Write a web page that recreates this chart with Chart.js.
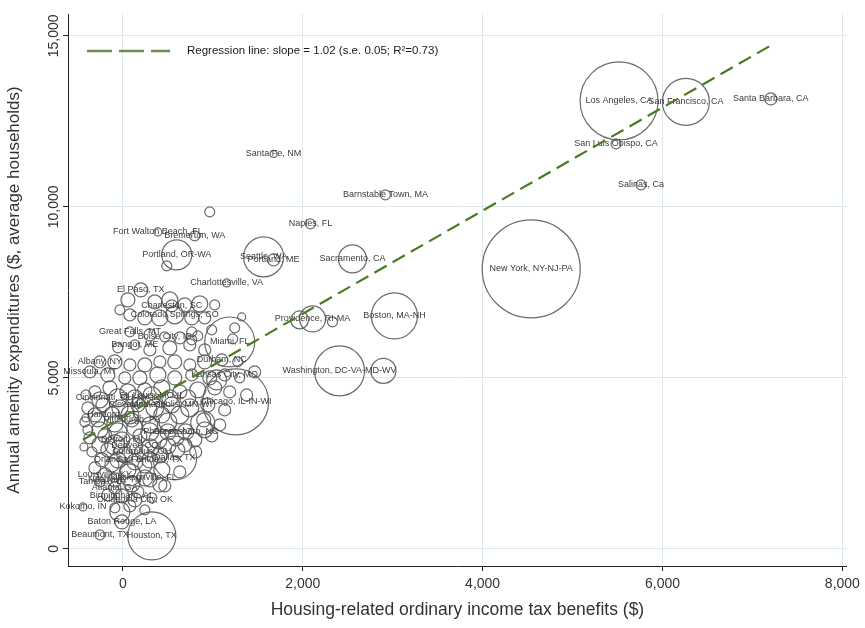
<!DOCTYPE html>
<html><head><meta charset="utf-8">
<script src="https://cdn.jsdelivr.net/npm/chart.js@4"></script>
<style>html,body{margin:0;padding:0;background:#fff}#wrap{width:865px;height:628px}</style>
</head><body><div id="wrap"><canvas id="c" width="865" height="628"></canvas></div>
<script>
const metro = [
 'Los Angeles, CA','San Francisco, CA','Santa Barbara, CA','San Luis Obispo, CA','Salinas, Ca','New York, NY-NJ-PA','Santa Fe, NM','Barnstable Town, MA','Naples, FL','',
 'Sacramento, CA','Seattle, WA','Portland, ME','Portland, OR-WA','','Fort Walton Beach, FL','Bremerton, WA','Charlottesville, VA','El Paso, TX','Boston, MA-NH',
 'Providence, RI-MA','','','Washington, DC-VA-MD-WV','','Chicago, IL-IN-WI','','Miami, FL','Houston, TX','Dallas, TX',
 'Baton Rouge, LA','Beaumont, TX','Kokomo, IN','','','','','','Colorado Springs, CO','',
 '','','','','','','Charleston, SC','Great Falls, MT','','Boise City, ID',
 '','','','','','','Bangor, ME','','','',
 '','','','','Albany, NY','','','','','',
 '','','Durham, NC','','Missoula, MT','','','','','',
 '','','Kansas City, MO','','','','','','','',
 '','','','','','','','','','Cleveland, OH',
 '','Minneapolis, MN-WI','','','','','','','','Pittsburgh, PA',
 '','','Greensboro, NC','','','','','','Detroit, MI','',
 '','','','','','','','','Columbus, OH','',
 '','','','','','','','','','Tampa, FL',
 'Nashville, TN','','','','Atlanta, GA','','Birmingham, AL','','','',
 '','','','','','',
 '','Cincinnati, OH-KY-IN','','St. Louis, MO-IL','','','','Hartford, CT','','',
 '','','','','','Phoenix, AZ','','','Denver, CO','',
 '','','','Orlando, FL','','San Antonio, TX','Louisville, KY','Jacksonville, FL','','Oklahoma City, OK'
];
const benefit = [
 5517,6260,7204,5483,5761,4540,1676,2919,2087,966,
 2553,1565,1676,599,488,389,799,1154,200,3019,
 2109,1965,2331,2409,2897,1254,1376,1188,322,577,
 -11,-255,-444,56,355,522,688,855,577,411,
 244,78,766,910,-33,1021,544,78,300,466,
 633,833,988,744,522,300,133,-56,910,766,
 766,1321,1243,1221,-255,-89,78,244,411,577,
 744,910,1099,1277,-366,-167,22,189,389,577,
 766,966,1132,1299,1465,1043,-411,-311,-144,56,
 244,433,633,833,1021,1188,-389,-222,-33,167,
 355,544,744,944,1132,244,-422,-278,-89,100,
 300,500,699,899,1077,888,-366,-200,-11,189,
 389,588,799,988,-89,-344,-167,22,211,411,
 611,810,-311,-122,56,244,433,633,78,-255,
 -89,100,300,466,-89,-167,-11,167,322,-89,
 78,244,-33,-411,-433,-389,
 -255,-56,133,322,522,722,-311,-122,78,433,
 633,-255,-56,133,300,500,910,-255,133,300,
 500,688,-233,-56,133,300,-200,244,411,133
];
const amenity = [
 13099,13070,13158,11842,10643,8187,11550,10351,9503,9854,
 8480,8538,8450,8597,8275,9269,9152,7778,7573,6813,
 6725,6696,6638,5205,5205,4298,4503,6050,380,2661,
 789,409,1228,7281,7222,7281,7135,7164,6842,6754,
 6754,6842,6754,6754,6988,7135,7105,6345,6257,6199,
 6170,6228,6404,5965,5877,5819,5965,5877,5819,6345,
 6111,6784,6462,6140,5468,5468,5380,5380,5468,5468,
 5380,5468,5526,5468,5175,5088,5000,5000,5088,5000,
 5088,5000,5088,5000,5175,4942,4503,4591,4708,4591,
 4649,4708,4591,4649,4708,4591,4123,4211,4123,4211,
 4123,4211,4123,4211,4064,4064,3714,3772,3655,3772,
 3626,3714,3421,3772,3626,3684,3246,3304,3187,3304,
 3187,3246,3187,3304,3041,2836,2895,2749,2836,2749,
 2895,2836,2368,2456,2310,2427,2310,2251,2164,1959,
 2018,1901,2018,1842,1784,1579,1550,1667,1491,1199,
 1257,1140,1082,3830,2983,3480,
 4357,4415,4415,4474,4415,4415,3918,3918,3918,3918,
 3918,3480,3421,3538,3421,3421,3480,3041,3012,2953,
 3012,3041,2602,2602,2544,2602,2164,2076,1871,1433
];
const households = [
 9500,3450,225,155,155,15000,75,155,155,155,
 1225,2500,225,1400,155,100,155,100,305,3300,
 1050,500,155,3900,980,6800,225,3900,3600,3000,
 305,155,100,305,305,400,305,400,505,400,
 305,225,305,225,155,155,225,155,225,155,
 225,155,155,225,305,225,155,155,225,155,
 155,100,155,155,225,305,225,305,225,305,
 225,305,225,155,225,305,225,305,400,305,
 225,305,225,155,225,625,155,225,305,400,
 305,400,305,400,305,225,225,305,400,305,
 505,400,505,305,225,900,155,305,400,305,
 400,505,400,305,225,900,225,305,400,305,
 505,400,305,225,625,155,305,400,305,400,
 305,225,225,305,400,305,400,225,756,155,
 305,400,305,225,225,225,305,225,155,155,
 225,155,625,100,100,155,
 400,505,400,505,400,400,305,400,505,400,
 505,400,505,400,505,400,400,400,400,505,
 400,305,305,400,400,400,305,400,305,305
];
const fitBenefit = [-444, 7204];
const fitAmenity = [3190, 14720];
const xTicks = [0, 2000, 4000, 6000, 8000];
const yTicks = [0, 5000, 10000, 15000];
const legendText = 'Regression line: slope = 1.02 (s.e. 0.05; R\u00B2=0.73)';
const xTitle = 'Housing-related ordinary income tax benefits ($)';
const yTitle = 'Annual amenity expenditures ($, average households)';

const FONT = "'Liberation Sans', Arial, sans-serif";
const fmt = v => Number(v).toLocaleString('en-US');
const bubbles = benefit.map((x, i) => ({x: x, y: amenity[i], r: 0.4 * Math.sqrt(households[i])}));
const fitLine = fitBenefit.map((x, i) => ({x: x, y: fitAmenity[i]}));

const decor = {
  id: 'decor',
  afterDatasetDraw(chart, args) {
    if (args.meta.type !== 'bubble') return;
    const ctx = chart.ctx, xs = chart.scales.x, ys = chart.scales.y;
    ctx.save();
    ctx.font = '9px ' + FONT;
    ctx.fillStyle = '#3c3c3c';
    ctx.textAlign = 'center';
    ctx.textBaseline = 'middle';
    metro.forEach((name, i) => {
      if (!name) return;
      ctx.fillText(name, xs.getPixelForValue(benefit[i]), ys.getPixelForValue(amenity[i]));
    });
    ctx.restore();
  },
  afterDraw(chart) {
    const ctx = chart.ctx, ys = chart.scales.y, a = chart.chartArea;
    ctx.save();
    ctx.font = '14px ' + FONT;
    ctx.fillStyle = '#333';
    ctx.textAlign = 'center';
    ctx.textBaseline = 'middle';
    ys.ticks.forEach(t => {
      const py = ys.getPixelForValue(t.value);
      ctx.save();
      ctx.translate(a.left - 14, py);
      ctx.rotate(-Math.PI / 2);
      ctx.fillText(fmt(t.value), 0, 0);
      ctx.restore();
    });
    // legend
    const ly = a.top + 37;
    ctx.strokeStyle = '#6a8c48';
    ctx.lineWidth = 2.4;
    ctx.setLineDash([25, 7]);
    ctx.beginPath();
    ctx.moveTo(a.left + 19, ly);
    ctx.lineTo(a.left + 102, ly);
    ctx.stroke();
    ctx.setLineDash([]);
    ctx.font = '11.5px ' + FONT;
    ctx.fillStyle = '#1a1a1a';
    ctx.textAlign = 'left';
    ctx.fillText(legendText, a.left + 119, ly);
    ctx.restore();
  }
};

new Chart(document.getElementById('c'), {
  type: 'bubble',
  data: {
    datasets: [
      {type: 'line', label: 'Regression line', data: fitLine, borderColor: '#4b7a23', borderWidth: 2.2,
       borderDash: [14, 7], pointRadius: 0, fill: false, order: 0},
      {type: 'bubble', label: 'Metro areas', data: bubbles, borderColor: 'rgba(90,90,90,0.9)',
       backgroundColor: 'rgba(0,0,0,0)', borderWidth: 1.2, order: 1}
    ]
  },
  options: {
    responsive: false,
    animation: false,
    events: [],
    layout: {autoPadding: false, padding: {top: 14, right: 17, left: 0, bottom: 0}},
    plugins: {legend: {display: false}, tooltip: {enabled: false}},
    scales: {
      x: {
        type: 'linear', min: -610, max: 8050,
        afterBuildTicks: s => { s.ticks = xTicks.map(v => ({value: v})); },
        afterFit: s => { s.height = 62; },
        grid: {color: '#dde8ee', lineWidth: 1, tickColor: '#222', tickLength: 5, drawTicks: true},
        border: {color: '#222', width: 1},
        ticks: {font: {family: FONT, size: 14}, color: '#333', padding: 5, maxRotation: 0, callback: v => fmt(v)},
        title: {display: true, text: xTitle, font: {family: FONT, size: 17.5}, color: '#333', padding: {top: 0, bottom: 7}}
      },
      y: {
        type: 'linear', min: -500, max: 15640,
        afterBuildTicks: s => { s.ticks = yTicks.map(v => ({value: v})); },
        afterFit: s => { s.width = 68; },
        grid: {color: '#dde8ee', lineWidth: 1, tickColor: '#222', tickLength: 5, drawTicks: true},
        border: {color: '#222', width: 1},
        ticks: {display: false},
        title: {display: true, text: yTitle, font: {family: FONT, size: 17}, color: '#333', padding: {top: 4, bottom: 0}}
      }
    }
  },
  plugins: [decor]
});
</script>
</body></html>
